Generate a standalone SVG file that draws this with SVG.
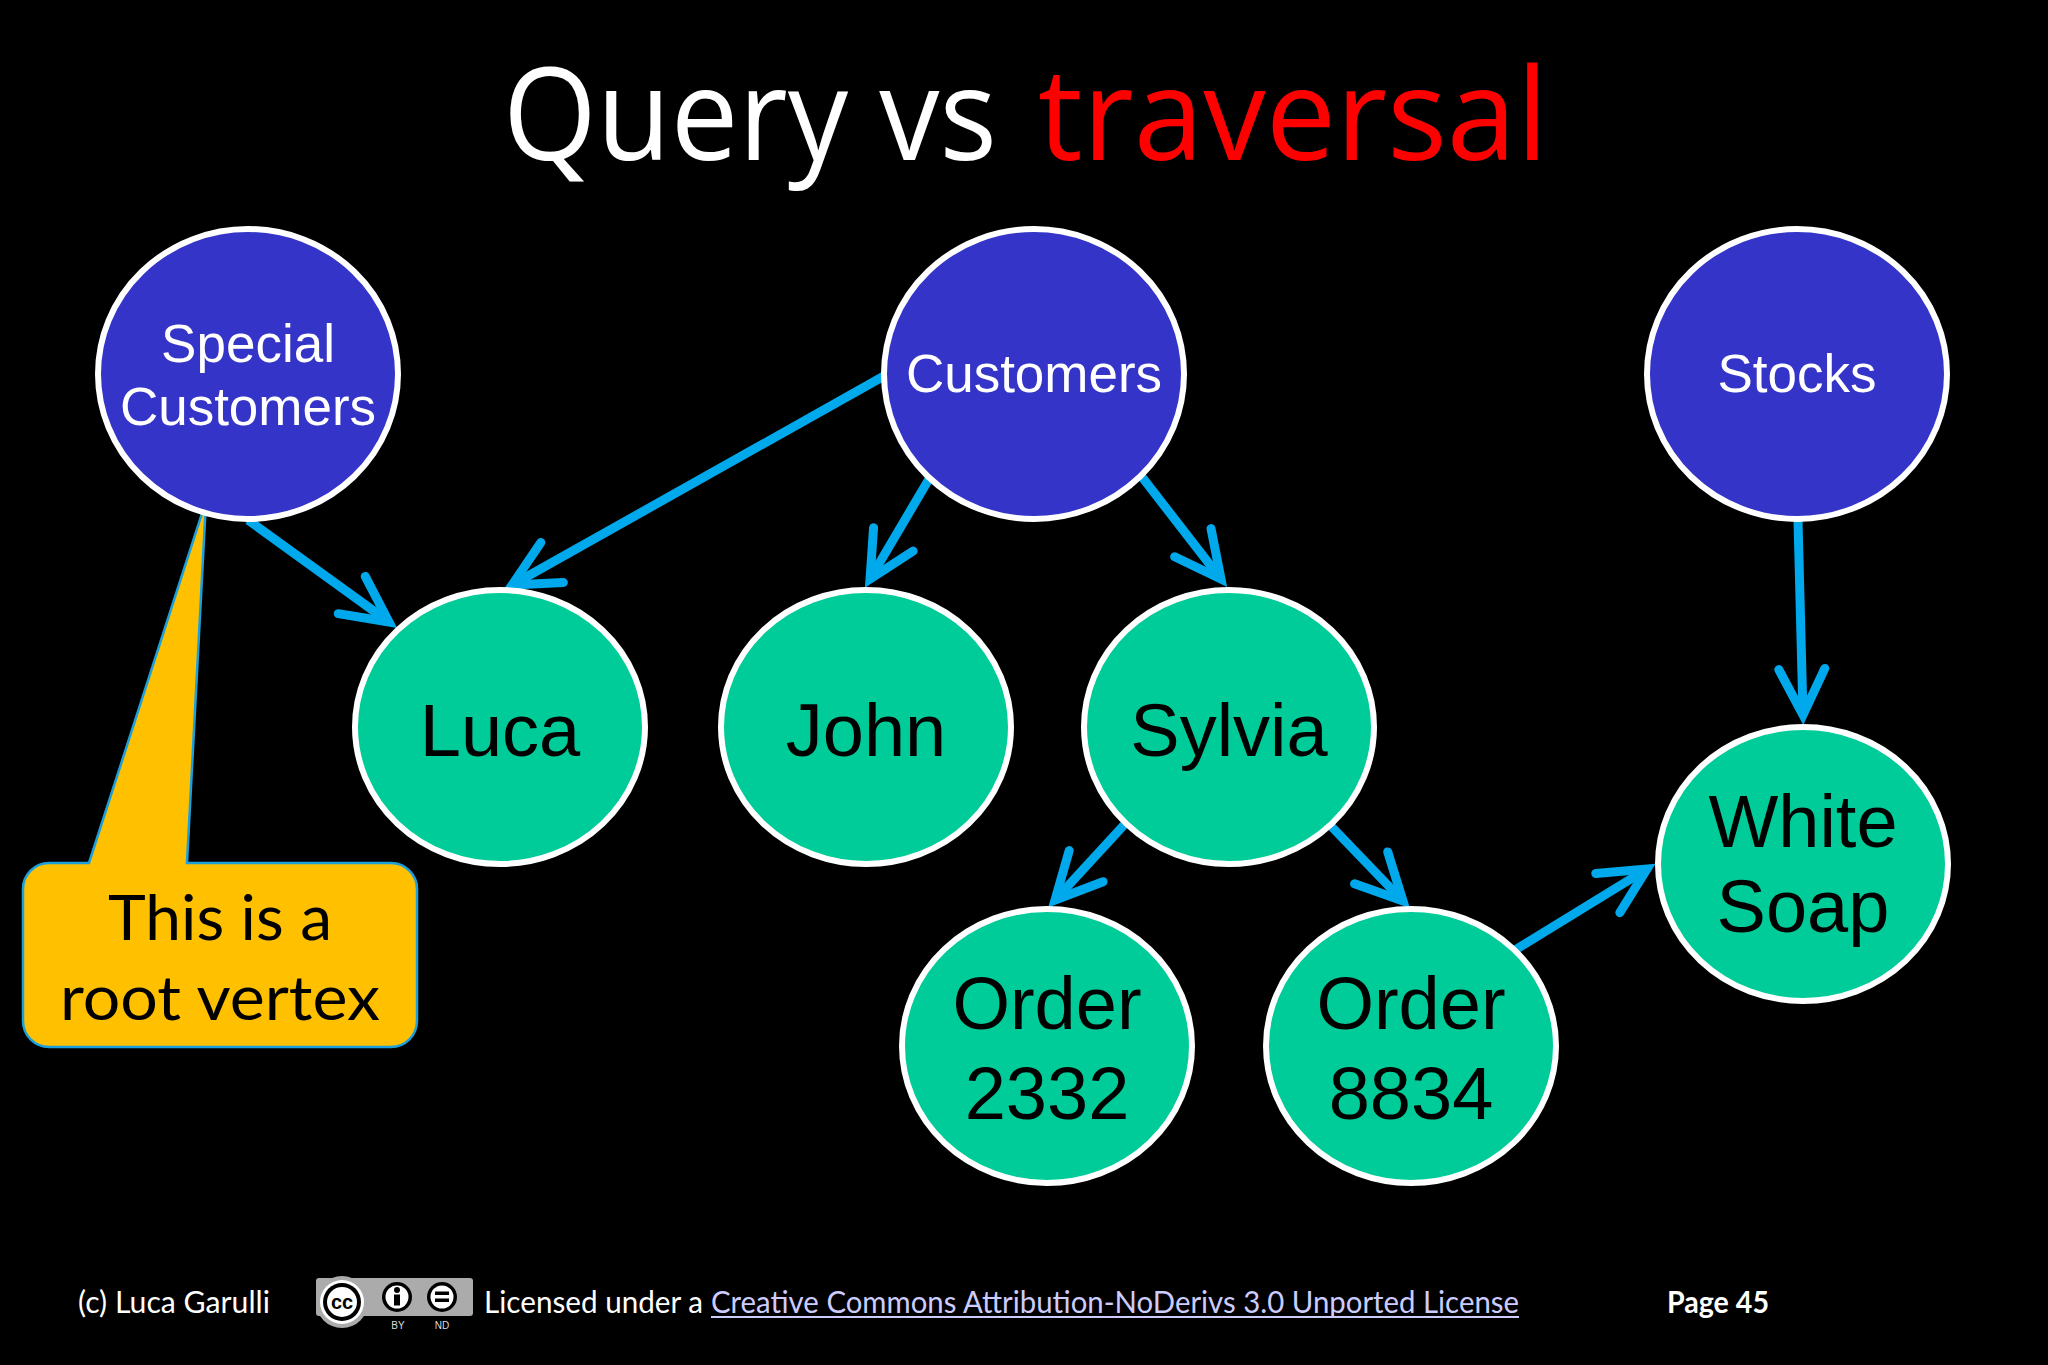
<svg xmlns="http://www.w3.org/2000/svg" width="2048" height="1365" viewBox="0 0 2048 1365">
<style>
.blue{fill:#3434C8;stroke:#FFFFFF;stroke-width:6}
.green{fill:#00CC99;stroke:#FFFFFF;stroke-width:6}
.bt{font-family:"Liberation Sans",Arial,sans-serif;font-size:53px;fill:#FFFFFF;text-anchor:middle}
.gt{font-family:"Liberation Sans",Arial,sans-serif;font-size:74px;fill:#000000;text-anchor:middle}
.edge{stroke:#00A9EC;stroke-width:9;fill:none;marker-end:url(#chev)}
.foot{font-family:Lato,"Open Sans",sans-serif;font-size:30px;fill:#FFFFFF}
.title{font-family:"Open Sans","Liberation Sans",sans-serif;font-size:128px}
.call{font-family:Lato,"Open Sans",sans-serif;font-size:62px;fill:#000000;text-anchor:middle}
</style>
<defs>
<marker id="chev" markerUnits="userSpaceOnUse" viewBox="-70 -40 90 80" markerWidth="90" markerHeight="80" refX="0" refY="0" orient="auto" overflow="visible">
<path d="M -46,-23 L 0,0 L -46,23" fill="none" stroke="#00A9EC" stroke-width="9" stroke-linecap="round" stroke-linejoin="miter" stroke-miterlimit="10"/>
</marker>
</defs>
<rect x="0" y="0" width="2048" height="1365" fill="#000000"/>

<g id="title">
<text class="title" x="503" y="160" fill="#FFFFFF" textLength="494" lengthAdjust="spacingAndGlyphs">Query vs</text>
<text class="title" x="1038" y="160" fill="#FF0000" textLength="510" lengthAdjust="spacingAndGlyphs">traversal</text>
</g>

<g id="callout">
<path d="M 49,863 L 89,863 L 206,501 L 187,863 L 391,863 A 26,26 0 0 1 417,889 L 417,1021 A 26,26 0 0 1 391,1047 L 49,1047 A 26,26 0 0 1 23,1021 L 23,889 A 26,26 0 0 1 49,863 Z" fill="#FFC000" stroke="#1CA0DC" stroke-width="2.5"/>
<text class="call" x="220" y="940" textLength="224" lengthAdjust="spacingAndGlyphs">This is a</text>
<text class="call" x="220" y="1020" textLength="320" lengthAdjust="spacingAndGlyphs">root vertex</text>
</g>

<g id="connectors">
<line class="edge" x1="248" y1="520" x2="389" y2="622"/>
<line class="edge" x1="884" y1="376" x2="512" y2="585"/>
<line class="edge" x1="929" y1="479" x2="870" y2="579"/>
<line class="edge" x1="1142" y1="477" x2="1221" y2="579"/>
<line class="edge" x1="1124" y1="825" x2="1055" y2="900"/>
<line class="edge" x1="1330" y1="825" x2="1403" y2="901"/>
<line class="edge" x1="1515" y1="950" x2="1647" y2="869"/>
<line class="edge" x1="1798" y1="521" x2="1803" y2="715"/>
</g>

<g id="special-customers">
<ellipse class="blue" cx="248" cy="374" rx="150" ry="145"/>
<text class="bt" x="248" y="362">Special</text>
<text class="bt" x="248" y="425">Customers</text>
</g>
<g id="customers">
<ellipse class="blue" cx="1034" cy="374" rx="150" ry="145"/>
<text class="bt" x="1034" y="392">Customers</text>
</g>
<g id="stocks">
<ellipse class="blue" cx="1797" cy="374" rx="150" ry="145"/>
<text class="bt" x="1797" y="392">Stocks</text>
</g>
<g id="luca">
<ellipse class="green" cx="500" cy="727" rx="145" ry="137"/>
<text class="gt" x="500" y="756">Luca</text>
</g>
<g id="john">
<ellipse class="green" cx="866" cy="727" rx="145" ry="137"/>
<text class="gt" x="866" y="756">John</text>
</g>
<g id="sylvia">
<ellipse class="green" cx="1229" cy="727" rx="145" ry="137"/>
<text class="gt" x="1229" y="756">Sylvia</text>
</g>
<g id="order-2332">
<ellipse class="green" cx="1047" cy="1046" rx="145" ry="137"/>
<text class="gt" x="1047" y="1029">Order</text>
<text class="gt" x="1047" y="1119">2332</text>
</g>
<g id="order-8834">
<ellipse class="green" cx="1411" cy="1046" rx="145" ry="137"/>
<text class="gt" x="1411" y="1029">Order</text>
<text class="gt" x="1411" y="1119">8834</text>
</g>
<g id="white-soap">
<ellipse class="green" cx="1803" cy="864" rx="145" ry="137"/>
<text class="gt" x="1803" y="847">White</text>
<text class="gt" x="1803" y="932">Soap</text>
</g>

<g id="footer">
<text class="foot" x="78" y="1313" textLength="192" lengthAdjust="spacingAndGlyphs">(c) Luca Garulli</text>
<g id="cc-badge">
<rect x="316" y="1278" width="157" height="38" rx="3" fill="#ABABAB"/>
<circle cx="342" cy="1302" r="26" fill="#ABABAB"/>
<circle cx="342" cy="1302" r="22" fill="#FFFFFF"/>
<circle cx="342" cy="1302" r="19" fill="#000000"/>
<circle cx="342" cy="1302" r="15" fill="#FFFFFF"/>
<text x="342" y="1309" font-family="'Liberation Sans',Arial,sans-serif" font-size="20" font-weight="bold" fill="#000000" text-anchor="middle">cc</text>
<circle cx="397" cy="1297" r="15" fill="#000000"/>
<circle cx="397" cy="1297" r="11.5" fill="#FFFFFF"/>
<circle cx="397" cy="1290" r="3" fill="#000000"/>
<rect x="394" y="1294.5" width="6" height="11" fill="#000000"/>
<circle cx="442" cy="1297" r="15" fill="#000000"/>
<circle cx="442" cy="1297" r="11.5" fill="#FFFFFF"/>
<rect x="435" y="1291.5" width="14" height="3.5" fill="#000000"/>
<rect x="435" y="1298.5" width="14" height="3.5" fill="#000000"/>
<text x="398" y="1329" font-family="'Liberation Sans',Arial,sans-serif" font-size="10" fill="#DDDDDD" text-anchor="middle">BY</text>
<text x="442" y="1329" font-family="'Liberation Sans',Arial,sans-serif" font-size="10" fill="#DDDDDD" text-anchor="middle">ND</text>
</g>
<text class="foot" x="484" y="1313" textLength="219" lengthAdjust="spacingAndGlyphs">Licensed under a</text>
<text class="foot" x="711" y="1313" style="fill:#CCCCFF" textLength="808" lengthAdjust="spacingAndGlyphs">Creative Commons Attribution-NoDerivs 3.0 Unported License</text>
<rect x="711" y="1316" width="808" height="2" fill="#CCCCFF"/>
<text class="foot" x="1667" y="1313" font-weight="bold" textLength="102" lengthAdjust="spacingAndGlyphs">Page 45</text>
</g>
</svg>
